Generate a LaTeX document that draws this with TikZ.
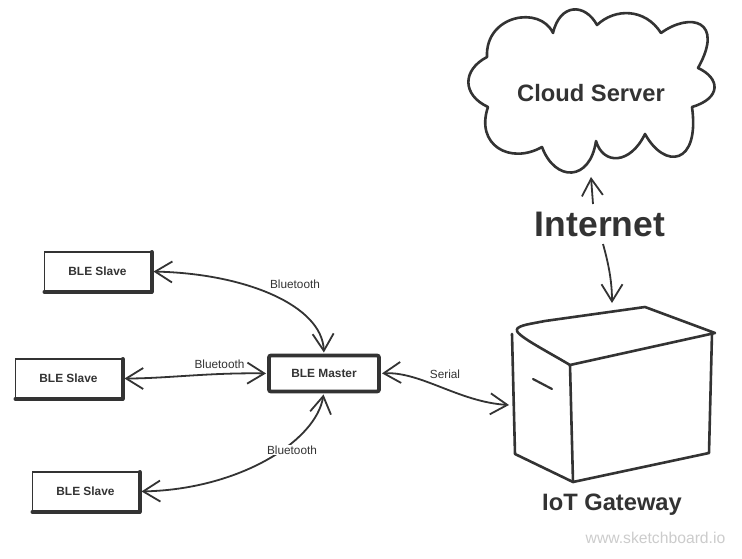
\documentclass[tikz,border=0pt]{standalone}
\usepackage{fontspec}
\setmainfont{Liberation Sans}
\usetikzlibrary{arrows.meta}
\definecolor{ink}{HTML}{333333}
\tikzset{
  barb/.tip={Straight Barb[length=17pt,width=21pt,line width=1.8pt]},
  conn/.style={draw=ink,line width=1.8pt,{barb}-{barb},shorten <=3pt,shorten >=3pt},
  single/.style={draw=ink,line width=1.8pt,-{barb}},
  slavebox/.style={draw=ink,fill=white,line width=1.4pt,minimum width=106pt,minimum height=39pt,inner sep=0pt,outer sep=0pt,text=ink,font=\bfseries\fontsize{11.9}{14}\selectfont},
  masterbox/.style={draw=ink,fill=white,line width=3.8pt,rounded corners=2pt,minimum width=110pt,minimum height=36pt,inner sep=0pt,outer sep=0pt,text=ink,font=\bfseries\fontsize{11.9}{14}\selectfont},
  heavy/.style={draw=ink,line width=4pt,line cap=round},
  edgelabel/.style={fill=white,inner sep=0.5pt,text=ink,font=\fontsize{11.8}{14}\selectfont},
  bigbold/.style={inner sep=0pt,text=ink,font=\bfseries\fontsize{23.7}{28}\selectfont},
  sketch/.style={draw=ink,line width=2.6pt,line join=round,line cap=round},
}
\begin{document}
\begin{tikzpicture}[x=1pt,y=-1pt]
\useasboundingbox[fill=white] (0,0) rectangle (742,559);
% cloud
\filldraw[sketch,fill=white] (553,33)
  .. controls (560,3) and (585,3) .. (597,25)
  .. controls (615,8) and (645,8) .. (661,33)
  .. controls (690,12) and (725,20) .. (698,68)
  .. controls (720,78) and (722,98) .. (692,107)
  .. controls (700,165) and (665,170) .. (645,134)
  .. controls (630,165) and (603,165) .. (596,141)
  .. controls (590,182) and (555,182) .. (542,147)
  .. controls (510,165) and (475,145) .. (488,107)
  .. controls (462,95) and (462,70) .. (487,57)
  .. controls (485,15) and (540,5) .. cycle;
\node[bigbold] (cloud) at (591,93.5) {Cloud Server};
\coordinate (cloudport) at (591,177);
\node[inner sep=0pt,text=ink,font=\bfseries\fontsize{35.5}{42}\selectfont] (internet) at (600,224.5) {Internet};
\coordinate (netup) at (593,204);
\coordinate (netdown) at (603,244);
% gateway
\draw[sketch] (512,334) -- (515,454) -- (573,482) -- (709,453) -- (712,333);
\draw[sketch] (570,365) -- (573,482);
\draw[sketch] (517,329) .. controls (520,325) and (530,324) .. (545,321) -- (645,307) -- (715,333) -- (570,365) .. controls (545,350) and (513,334) .. (517,329);
\draw[sketch,line width=2.2pt] (533,379) -- (552,389);
\node[bigbold] (gateway) at (612,505) {IoT Gateway};
\coordinate (gwport) at (509,405);
\coordinate (gwtop) at (612,303);
% boxes
\node[slavebox] (s1) at (97.5,271.5) {BLE Slave};
\node[slavebox] (s2) at (68.5,378.5) {BLE Slave};
\node[slavebox] (s3) at (85.5,491.5) {BLE Slave};
\node[masterbox] (m) at (324,373.5) {BLE Master};
\foreach \b in {s1,s2,s3}{
  \draw[heavy] ([yshift=-0.8pt]\b.south west) -- ([yshift=-0.8pt,xshift=1pt]\b.south east);
  \draw[heavy] ([xshift=1pt]\b.north east) -- ([xshift=1pt,yshift=-0.8pt]\b.south east);
}
% connectors
\draw[conn] (s1.east) .. controls +(95,2) and +(-2,-50) .. (m.north);
\draw[conn] (s2.east) .. controls +(45,0) and +(-60,-1) .. (m.west);
\draw[conn] (s3.east) .. controls +(100,-2) and +(-8,50) .. (m.south);
\draw[conn,shorten >=0pt] (m.east) .. controls +(42,-2) and +(-50,-3) .. (gwport);
\draw[single] (netup) -- (cloudport);
\draw[single] (netdown) .. controls (608,262) and (612,280) .. (gwtop);
% labels
\node[edgelabel] (l1) at (295,284) {Bluetooth};
\node[edgelabel] (l2) at (219.5,364) {Bluetooth};
\node[edgelabel] (l3) at (292,450) {Bluetooth};
\node[edgelabel] (l4) at (445,374) {Serial};
\node[inner sep=0pt,text=black!20,font=\fontsize{15.7}{18}\selectfont] (mark) at (655.5,538) {www.sketchboard.io};
\end{tikzpicture}
\end{document}
